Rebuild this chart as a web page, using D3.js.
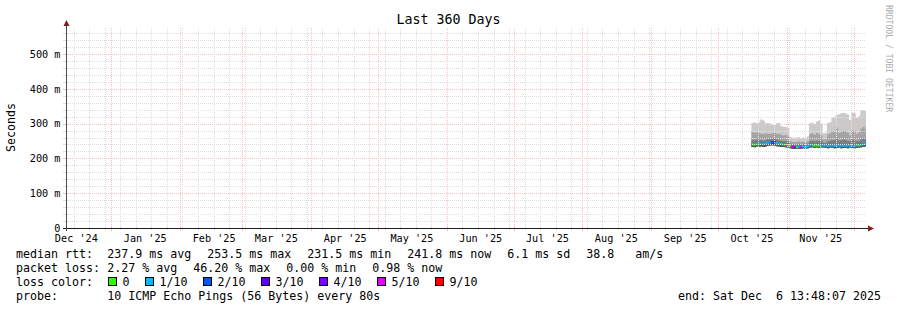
<!DOCTYPE html>
<html>
<head>
<meta charset="utf-8">
<script src="https://cdn.jsdelivr.net/npm/d3@7/dist/d3.min.js"></script>
<style>
  html, body { margin: 0; padding: 0; background: #fff; }
  svg { display: block; }
  text { font-family: "DejaVu Sans Mono", monospace; fill: #000; white-space: pre; }
</style>
</head>
<body>
<svg id="chart" width="897" height="310"></svg>
<script>
// daily rows, first row = 2025-10-16, values in ms
var firstDay = new Date(2025, 9, 16);
var endTime = new Date(2025, 11, 6, 13, 48, 7);
var rangeDays = 360;

var median = [241, 240, 242, 241, 243, 242, 243, 245, 246, 247, 246, 244, 243, 242, 241, 240, 239,
  235, 233, 232, 232, 234, 233, 235, 232, 235,
  238, 239, 237, 238, 237, 239, 238, 237, 236, 238, 237, 236, 237, 238, 236, 237, 237, 236, 238, 237, 236, 237, 238, 239, 240, 242];
var pingMax = [302, 303, 301, 304, 312, 309, 301, 302, 300, 297, 296, 301, 302, 293, 291, 290, 288,
  262, 260, 259, 260, 261, 258, 260, 259, 263,
  301, 303, 299, 306, 309, 300, 272, 274, 302, 304, 317, 320, 325, 327, 330, 331, 329, 326, 310, 331, 330, 316, 322, 338, 339, 337];
var ping9 = [276, 274, 275, 273, 271, 270, 272, 271, 270, 272, 273, 271, 270, 268, 266, 267, 265,
  249, 248, 247, 248, 249, 247, 248, 247, 250,
  270, 272, 268, 274, 271, 266, 254, 255, 269, 272, 278, 276, 288, 274, 277, 279, 278, 274, 266, 280, 277, 270, 275, 286, 290, 283];
var ping8 = [253, 252, 254, 252, 253, 251, 253, 255, 256, 257, 256, 254, 252, 251, 250, 250, 248,
  243, 241, 240, 241, 242, 240, 242, 240, 243,
  250, 251, 249, 251, 250, 250, 245, 245, 249, 251, 253, 252, 256, 251, 252, 254, 253, 251, 249, 254, 252, 250, 251, 255, 257, 256];
var ping7 = [245, 244, 246, 245, 247, 246, 247, 249, 250, 251, 250, 248, 247, 246, 245, 244, 243,
  238, 236, 235, 235, 237, 236, 238, 235, 238,
  242, 243, 241, 242, 241, 243, 241, 240, 240, 242, 241, 240, 241, 242, 240, 241, 241, 240, 242, 241, 240, 241, 242, 243, 244, 246];
var pingMin = [233, 232, 234, 233, 234, 233, 234, 236, 237, 238, 237, 235, 234, 233, 233, 232, 231,
  229, 228, 227, 227, 228, 228, 229, 227, 229,
  231, 232, 230, 231, 230, 232, 231, 230, 229, 231, 230, 229, 230, 231, 229, 230, 230, 229, 231, 230, 229, 230, 231, 232, 233, 234];
// packet loss in percent per row
var lossPct = [0, 0, 1.2, 0, 2.5, 1.8, 3.1, 0.9, 1.5, 14.0, 24.5, 2.2, 1.6, 0, 1.9, 0, 3.4,
  0, 46.2, 33.8, 0, 2.6, 41.5, 1.4, 0.8, 1.1,
  0.7, 1.3, 0, 0, 0, 0.6, 2.9, 1.7, 1.2, 0.9, 1.4, 2.1, 1.0, 0.8, 1.5, 1.9, 1.2, 2.4, 3.0, 1.1, 0.9, 1.6, 0, 0.5, 1.2, 0.98];

var lossLimits = [0, 1, 2, 3, 4, 5, 10];
var lossColors = ['#26ff00', '#00b8ff', '#0059ff', '#5e00ff', '#7e00ff', '#dd00ff', '#ff0000'];
var lossLabels = ['0', '1/10', '2/10', '3/10', '4/10', '5/10', '9/10'];
var smokeColors = ['#cacaca', '#a4a4a4', '#7e7e7e', '#585858'];

var yTicks = [0, 0.1, 0.2, 0.3, 0.4, 0.5];
var yTickLabels = ['0', '100 m', '200 m', '300 m', '400 m', '500 m'];

var title = 'Last 360 Days';
var rttStats = ['237.9 ms avg', '253.5 ms max', '231.5 ms min', '241.8 ms now', '6.1 ms sd', '38.8   am/s'];
var lossStats = ['2.27 % avg', '46.20 % max', '0.00 % min', '0.98 % now'];
var probeText = '10 ICMP Echo Pings (56 Bytes) every 80s';
var endText = 'end: Sat Dec  6 13:48:07 2025';

(function() {
  'use strict';
  var svg = d3.select('#chart');
  var left = 66, right = 866, bottom = 228, top = 28;
  var startTime = new Date(endTime.getTime() - rangeDays * 864e5);

  var x = d3.scaleTime().domain([startTime, endTime]).range([left, right]);
  var y = d3.scaleLinear().domain([0, (bottom - top) / 348]).range([bottom, top]);
  var crisp = function(v) { return Math.round(v) + 0.5; };

  svg.append('rect').attr('width', 897).attr('height', 310).attr('fill', '#fff');

  // rows, with a closing row at the end time so the last step has width
  var rows = median.map(function(m, i) {
    return {
      t: d3.timeDay.offset(firstDay, i),
      med: m / 1000,
      lo: pingMin[i] / 1000,
      tops: [pingMax[i], ping9[i], ping8[i], ping7[i]].map(function(v) { return v / 1000; }),
      loss: lossPct[i]
    };
  });
  var last = rows[rows.length - 1];
  var rowsEnd = rows.concat([Object.assign({}, last, {t: endTime})]);

  var smoke = svg.append('g');
  smokeColors.forEach(function(c, b) {
    var area = d3.area()
      .curve(d3.curveStepAfter)
      .x(function(d) { return x(d.t); })
      .y0(function(d) { return y(d.lo); })
      .y1(function(d) { return y(d.tops[b]); });
    smoke.append('path').datum(rowsEnd).attr('d', area).attr('fill', c);
  });

  // median line coloured by loss bucket
  var bucket = function(pct) {
    var lost = pct / 10;
    for (var j = 0; j < lossLimits.length; j++) {
      if (lost <= lossLimits[j]) return j;
    }
    return lossLimits.length - 1;
  };
  var line = d3.line().x(function(d) { return x(d.t); }).y(function(d) { return y(d.v); });
  var med = svg.append('g');
  rows.forEach(function(d, i) {
    var prev = i > 0 ? rows[i - 1].med : d.med;
    var next = rowsEnd[i + 1].t;
    med.append('path')
      .attr('d', line([{t: d.t, v: prev}, {t: d.t, v: d.med}, {t: next, v: d.med}]))
      .attr('fill', 'none')
      .attr('stroke', lossColors[bucket(d.loss)])
      .attr('stroke-width', 2);
  });

  // grid on top of the data, rrdtool style
  var grid = svg.append('g');
  var minorCol = '#dfdfdf', majorCol = '#f7c0c0';
  d3.range(1, 29).forEach(function(i) {
    var v = i * 0.02;
    var major = i % 5 === 0;
    var yy = crisp(y(v));
    grid.append('line').attr('x1', left).attr('x2', right).attr('y1', yy).attr('y2', yy)
      .attr('stroke', major ? majorCol : minorCol).attr('stroke-dasharray', '1,1');
    grid.append('line').attr('x1', left - 3).attr('x2', left + (major ? 3 : 2)).attr('y1', yy).attr('y2', yy)
      .attr('stroke', major ? majorCol : minorCol);
  });
  var weeks = d3.timeSunday.range(startTime, endTime).filter(function(d) { return d.getDate() !== 1; });
  var months = d3.timeMonth.range(startTime, endTime);
  weeks.forEach(function(d) {
    var xx = crisp(x(d));
    grid.append('line').attr('x1', xx).attr('x2', xx).attr('y1', top).attr('y2', bottom)
      .attr('stroke', minorCol).attr('stroke-dasharray', '1,1');
    grid.append('line').attr('x1', xx).attr('x2', xx).attr('y1', bottom - 2).attr('y2', bottom + 2)
      .attr('stroke', minorCol);
  });
  months.forEach(function(d) {
    var xx = crisp(x(d));
    grid.append('line').attr('x1', xx).attr('x2', xx).attr('y1', top).attr('y2', bottom)
      .attr('stroke', majorCol).attr('stroke-dasharray', '1,1');
    grid.append('line').attr('x1', xx).attr('x2', xx).attr('y1', bottom - 2).attr('y2', bottom + 3)
      .attr('stroke', majorCol);
  });

  // axes lines + arrows
  svg.append('line').attr('x1', left - 3).attr('x2', right + 3).attr('y1', bottom + 0.5).attr('y2', bottom + 0.5)
    .attr('stroke', '#1f1f1f');
  svg.append('line').attr('x1', left + 0.5).attr('x2', left + 0.5).attr('y1', bottom + 3).attr('y2', top - 3)
    .attr('stroke', '#4a4a4a');
  svg.append('path').attr('d', d3.line()([[right + 2, bottom - 2.5], [right + 8, bottom + 0.5], [right + 2, bottom + 3.5]]) + 'Z')
    .attr('fill', '#7f1f1f');
  svg.append('path').attr('d', d3.line()([[left - 2.5, top - 2], [left + 0.5, top - 8], [left + 3.5, top - 2]]) + 'Z')
    .attr('fill', '#7f1f1f');

  // tick labels
  var yAxis = d3.axisLeft(y).tickValues(yTicks)
    .tickFormat(function(d, i) { return yTickLabels[i]; })
    .tickSize(0).tickPadding(6);
  var gy = svg.append('g').attr('transform', 'translate(' + (left + 0.5) + ',0)').call(yAxis);
  gy.select('.domain').remove();
  gy.attr('font-family', null).attr('font-size', null);
  gy.selectAll('text').style('font-size', '10.2px').attr('fill', '#000');

  var labelDates = months.concat([d3.timeMonth.floor(startTime)])
    .map(function(d) { return new Date(d.getTime() + 15 * 864e5); })
    .filter(function(d) { return d >= startTime && d <= endTime; });
  var xAxis = d3.axisBottom(x).tickValues(labelDates)
    .tickFormat(d3.timeFormat("%b '%y")).tickSize(0).tickPadding(7);
  var gx = svg.append('g').attr('transform', 'translate(0,' + bottom + ')').call(xAxis);
  gx.select('.domain').remove();
  gx.attr('font-family', null).attr('font-size', null);
  gx.selectAll('text').style('font-size', '10.2px').attr('fill', '#000');

  // titles
  svg.append('text').attr('x', 448.5).attr('y', 24).attr('text-anchor', 'middle')
    .style('font-size', '13.3px').text(title);
  svg.append('text').attr('transform', 'translate(15,127.5) rotate(-90)').attr('text-anchor', 'middle')
    .style('font-size', '11.6px').text('Seconds');
  svg.append('text').attr('transform', 'translate(885.5,5) rotate(90)')
    .style('font-size', '8.1px').style('fill', '#acacac').text('RRDTOOL / TOBI OETIKER');

  // legend: items flow with a fixed gap, like rrdtool's gprint layout
  var charW = 7, gap = 16;
  var lg = svg.append('g').style('font-size', '11.63px');
  var flow = function(items, yy) {
    var xx = 107.3;
    items.forEach(function(s) {
      lg.append('text').attr('x', xx).attr('y', yy).text(s);
      xx += s.length * charW + gap;
    });
  };
  lg.append('text').attr('x', 16).attr('y', 258).text('median rtt:');
  flow(rttStats, 258);
  lg.append('text').attr('x', 16).attr('y', 272).text('packet loss:');
  flow(lossStats, 272);
  lg.append('text').attr('x', 16).attr('y', 286).text('loss color:');
  var bx = 108.5;
  lossLabels.forEach(function(l, i) {
    lg.append('rect').attr('x', bx).attr('y', 277.5).attr('width', 8).attr('height', 8)
      .attr('fill', lossColors[i]).attr('stroke', '#000');
    lg.append('text').attr('x', bx + 14).attr('y', 286).text(l);
    bx += 14 + l.length * charW + gap;
  });
  lg.append('text').attr('x', 16).attr('y', 300).text('probe:');
  lg.append('text').attr('x', 107.3).attr('y', 300).text(probeText);
  lg.append('text').attr('x', 881).attr('y', 300).attr('text-anchor', 'end').text(endText);
})();
</script>
</body>
</html>
